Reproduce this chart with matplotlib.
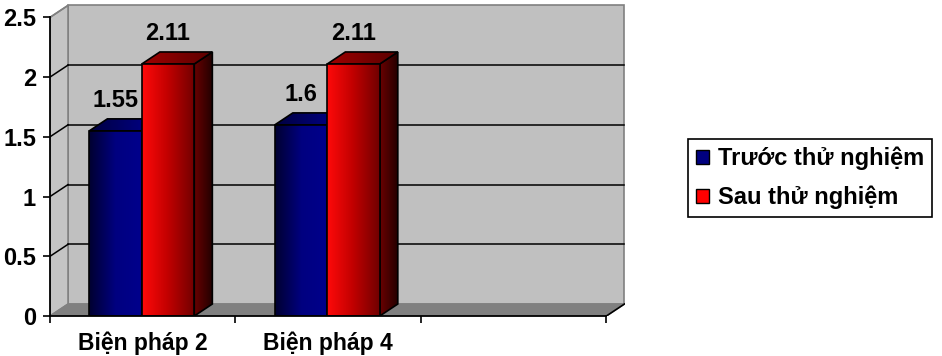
import numpy as np
import matplotlib
matplotlib.use("Agg")
import matplotlib.pyplot as plt
from matplotlib.patches import Polygon, Patch
from matplotlib.colors import LinearSegmentedColormap

plt.rcParams["font.family"] = ["Liberation Sans", "DejaVu Sans"]
plt.rcParams["font.weight"] = "bold"

categories = ["Biện pháp 2", "Biện pháp 4", ""]
series_names = ["Trước thử nghiệm", "Sau thử nghiệm"]
truoc = [1.55, 1.6]
sau = [2.11, 2.11]
y_ticks = [0, 0.5, 1, 1.5, 2, 2.5]
y_tick_labels = ["0", "0.5", "1", "1.5", "2", "2.5"]

# 3D depth offset (data units)
DX = 18 / 185
DY = 12 / 119.6
YMAX = 2.5
NCAT = len(categories)

BLUE = {"front": ["#000030", "#000080", "#00008c"],
        "top": ["#000040", "#000090"],
        "side": ["#000050", "#000018"]}
RED = {"front": ["#ff0a0a", "#c00000", "#700000"],
       "top": ["#a00000", "#5a0000"],
       "side": ["#6a0000", "#200000"]}


def grad_poly(ax, verts, colors, z, edge="black", lw=1.2):
    poly = Polygon(verts, closed=True, facecolor="none", edgecolor=edge,
                   lw=lw, zorder=z + 0.1)
    ax.add_patch(poly)
    xs = [v[0] for v in verts]
    ys = [v[1] for v in verts]
    cmap = LinearSegmentedColormap.from_list("g", colors)
    im = ax.imshow(np.linspace(0, 1, 128).reshape(1, -1), cmap=cmap,
                   extent=(min(xs), max(xs), min(ys), max(ys)),
                   aspect="auto", zorder=z, interpolation="bilinear",
                   origin="lower")
    im.set_clip_path(poly)


def bar3d(ax, x0, w, h, style, z):
    front = [(x0, 0), (x0 + w, 0), (x0 + w, h), (x0, h)]
    top = [(x0, h), (x0 + w, h), (x0 + w + DX, h + DY), (x0 + DX, h + DY)]
    side = [(x0 + w, 0), (x0 + w + DX, DY), (x0 + w + DX, h + DY), (x0 + w, h)]
    grad_poly(ax, side, style["side"], z)
    grad_poly(ax, top, style["top"], z + 0.2)
    grad_poly(ax, front, style["front"], z + 0.4)


fig = plt.figure(figsize=(9.42, 3.56), dpi=100)
W, H = 942, 356
ax = fig.add_axes([50 / W, 40 / H, 575 / W, 313 / H])

# walls
back = [(DX, DY), (NCAT + DX, DY), (NCAT + DX, YMAX + DY), (DX, YMAX + DY)]
ax.add_patch(Polygon(back, closed=True, facecolor="#c0c0c0",
                     edgecolor="#808080", lw=1.2, zorder=1))
left = [(0, 0), (DX, DY), (DX, YMAX + DY), (0, YMAX)]
ax.add_patch(Polygon(left, closed=True, facecolor="#c4c4c4",
                     edgecolor="#808080", lw=1.2, zorder=1))
floor = [(0, 0), (NCAT, 0), (NCAT + DX, DY), (DX, DY)]
ax.add_patch(Polygon(floor, closed=True, facecolor="#808080",
                     edgecolor="#808080", lw=1, zorder=1.5))

# gridlines on back and left walls
for t in y_ticks[1:-1]:
    ax.plot([DX, NCAT + DX], [t + DY, t + DY], color="black", lw=1.1, zorder=2)
    ax.plot([0, DX], [t, t + DY], color="black", lw=1.1, zorder=2)
ax.plot([0, DX], [YMAX, YMAX + DY], color="#808080", lw=1.1, zorder=2)
ax.plot([NCAT, NCAT + DX], [0, DY], color="black", lw=1.2, zorder=2)

# bars
bw = 0.283
off = 0.212
for i in range(len(truoc)):
    bar3d(ax, i + off, bw, truoc[i], BLUE, 3 + i)
    bar3d(ax, i + off + bw, bw, sau[i], RED, 3.5 + i)
    for x0, v in [(i + off, truoc[i]), (i + off + bw, sau[i])]:
        ax.text(x0 + bw / 2, v + DY + 0.06, f"{v:g}", ha="center",
                va="bottom", fontsize=17, fontweight="bold", zorder=10)

ax.set_xlim(0, NCAT + DX + 0.003)
ax.set_ylim(0, YMAX + DY + 0.02)

for s in ["top", "right"]:
    ax.spines[s].set_visible(False)
ax.spines["left"].set_bounds(0, YMAX)
ax.spines["bottom"].set_bounds(0, NCAT)
for s in ["left", "bottom"]:
    ax.spines[s].set_color("black")
    ax.spines[s].set_linewidth(1.3)
    ax.spines[s].set_zorder(9)

ax.set_yticks(y_ticks)
ax.set_yticklabels(y_tick_labels, fontsize=17, fontweight="bold")
ax.tick_params(axis="y", length=5, width=1.2, pad=5)
ax.set_xticks(range(NCAT + 1))
ax.set_xticklabels([])
ax.tick_params(axis="x", which="major", length=5, width=1.2)
ax.set_xticks([i + 0.5 for i in range(NCAT)], minor=True)
ax.set_xticklabels(categories, minor=True, fontsize=16.5, fontweight="bold")
ax.tick_params(axis="x", which="minor", length=0, pad=11)

handles = [Patch(facecolor="#000080", edgecolor="black"),
           Patch(facecolor="#ff0000", edgecolor="black")]
leg = fig.legend(handles, series_names, loc="center left",
                 bbox_to_anchor=(688 / W, 0.5), frameon=True, fancybox=False,
                 edgecolor="black", framealpha=1, handlelength=0.55,
                 handleheight=0.55, handletextpad=0.35, borderpad=0.35,
                 borderaxespad=0, labelspacing=0.65,
                 prop={"size": 17, "weight": "bold"})
leg.get_frame().set_linewidth(1.2)

fig.savefig("out.png", dpi=100)
